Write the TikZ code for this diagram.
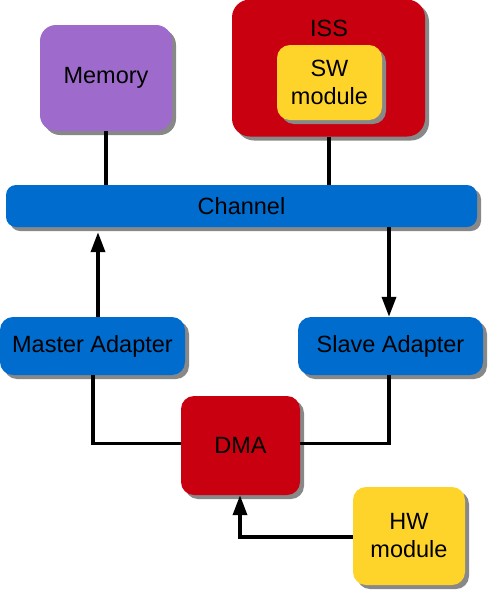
\documentclass[tikz,border=0pt]{standalone}
\usepackage{fontspec}
\setmainfont{Liberation Sans}
\usetikzlibrary{shadows,arrows.meta}
\definecolor{cpurple}{RGB}{158,107,204}
\definecolor{cred}{RGB}{200,0,15}
\definecolor{cyellow}{RGB}{255,212,42}
\definecolor{cblue}{RGB}{0,108,206}
\definecolor{cshadow}{RGB}{136,136,136}
\begin{document}
\begin{tikzpicture}[x=1pt,y=-1pt,
  box/.style={draw=none, rounded corners=13pt, inner sep=0pt, align=center,
    font=\fontsize{23.5}{28}\selectfont,
    drop shadow={shadow xshift=4pt, shadow yshift=-4pt, fill=cshadow, opacity=1}},
  wire/.style={line width=3.5pt, draw=black},
  arr/.style={wire, -{Triangle[width=14pt,length=20pt]}}]
\useasboundingbox (0,0) rectangle (488,590);
\node[box, fill=cpurple, minimum width=132pt, minimum height=106pt, rounded corners=16pt] (mem) at (106,78) {Memory};
\node[box, fill=cred, minimum width=193pt, minimum height=137pt, rounded corners=18pt] (iss) at (328.5,68) {};
\node[font=\fontsize{23.5}{28}\selectfont, inner sep=0pt] (isslabel) at (329,28) {ISS};
\node[box, fill=cyellow, minimum width=105pt, minimum height=75pt] (sw) at (329.5,82.5) {SW\\module};
\node[box, fill=cblue, minimum width=471pt, minimum height=42pt, rounded corners=10pt] (ch) at (241.5,206) {Channel};
\node[box, fill=cblue, minimum width=185pt, minimum height=58pt] (ma) at (92.5,346) {Master Adapter};
\node[box, fill=cblue, minimum width=185pt, minimum height=58pt] (sa) at (390.5,346) {Slave Adapter};
\node[box, fill=cred, minimum width=119pt, minimum height=99pt] (dma) at (240.5,445.5) {DMA};
\node[box, fill=cyellow, minimum width=112pt, minimum height=98pt] (hw) at (409,536) {HW\\module};
\coordinate (memx) at (106,0);
\coordinate (issx) at (329,0);
\coordinate (max) at (98,0);
\coordinate (sax) at (389,0);
\coordinate (mbx) at (93,0);
\coordinate (hwx) at (240,0);
\coordinate (lev) at (0,443.5);
\coordinate (hwy) at (0,537);
\begin{scope}[on background layer/.try]
\end{scope}
\draw[wire] (mem.south -| memx) -- (ch.north -| memx);
\draw[wire] (iss.south -| issx) -- (ch.north -| issx);
\draw[arr, shorten >=5pt] (ma.north -| max) -- (ch.south -| max);
\draw[arr] (ch.south -| sax) -- (sa.north -| sax);
\draw[wire] (ma.south -| mbx) -- (mbx |- lev) -- (dma.west |- lev);
\draw[wire] (sa.south -| sax) -- (sax |- lev) -- (dma.east |- lev);
\draw[arr] (hw.west |- hwy) -- (hwx |- hwy) -- (dma.south -| hwx);
\end{tikzpicture}
\end{document}
